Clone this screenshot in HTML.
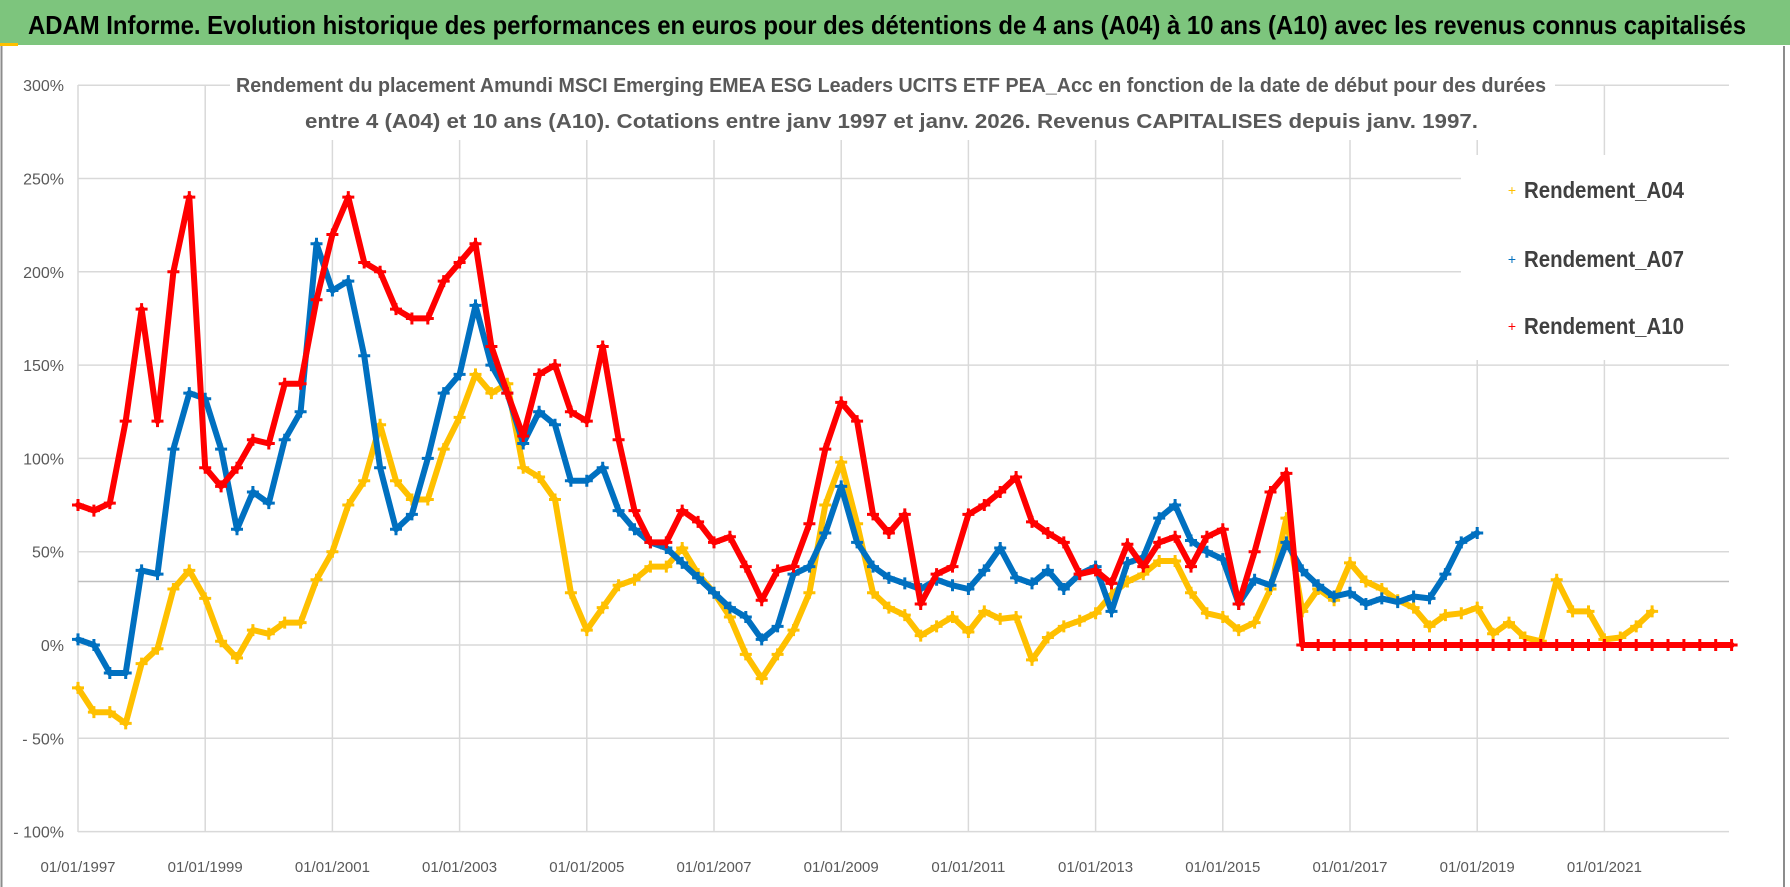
<!DOCTYPE html>
<html><head><meta charset="utf-8"><style>
html,body{margin:0;padding:0;background:#fff;}
svg{display:block;font-family:"Liberation Sans",sans-serif;}
</style></head><body>
<svg id="chart" width="1790" height="887" viewBox="0 0 1790 887">
<rect x="0" y="0" width="1790" height="887" fill="#fff"/>
<rect x="0" y="0" width="1790" height="45" fill="#7DC57D"/>
<rect x="0" y="43" width="18" height="3" fill="#FFC000"/>
<text x="28" y="34" font-size="26" font-weight="bold" fill="#000" textLength="1718" lengthAdjust="spacingAndGlyphs">ADAM Informe. Evolution historique des performances en euros pour des détentions de 4 ans (A04) à 10 ans (A10) avec les revenus connus capitalisés</text>
<line x1="1.5" y1="46" x2="1.5" y2="887" stroke="#8c8c8c" stroke-width="2"/>
<line x1="1784" y1="46" x2="1784" y2="887" stroke="#8c8c8c" stroke-width="2"/>
<g id="grid"></g>
<g id="series"></g>
<rect x="230" y="60" width="1325" height="80" fill="#fff"/>
<text x="236" y="92" font-size="20" font-weight="bold" fill="#595959" textLength="1310" lengthAdjust="spacingAndGlyphs">Rendement du placement Amundi MSCI Emerging EMEA ESG Leaders UCITS ETF PEA_Acc en fonction de la date de début pour des durées</text>
<text x="305" y="128" font-size="20" font-weight="bold" fill="#595959" textLength="1173" lengthAdjust="spacingAndGlyphs">entre 4 (A04) et 10 ans (A10). Cotations entre janv 1997 et janv. 2026. Revenus CAPITALISES depuis janv. 1997.</text>
<rect x="1461" y="155" width="268" height="205" fill="#fff"/>
<g>
<text x="1512" y="195" font-size="14" fill="#FFC000" text-anchor="middle">+</text>
<text x="1524" y="198" font-size="23" font-weight="bold" fill="#404040" textLength="160" lengthAdjust="spacingAndGlyphs">Rendement_A04</text></g>
<g>
<text x="1512" y="264" font-size="14" fill="#0070C0" text-anchor="middle">+</text>
<text x="1524" y="267" font-size="23" font-weight="bold" fill="#404040" textLength="160" lengthAdjust="spacingAndGlyphs">Rendement_A07</text></g>
<g>
<text x="1512" y="331" font-size="14" fill="#FF0000" text-anchor="middle">+</text>
<text x="1524" y="334" font-size="23" font-weight="bold" fill="#404040" textLength="160" lengthAdjust="spacingAndGlyphs">Rendement_A10</text></g>
<g id="axes"></g>
</svg>
<script>
var yTickValues=[300,250,200,150,100,50,0,-50,-100];
var yTickLabels=["300%","250%","200%","150%","100%","50%","0%","- 50%","- 100%"];
var xTickYears=[1997,1999,2001,2003,2005,2007,2009,2011,2013,2015,2017,2019,2021];
var xTickLabels=["01/01/1997","01/01/1999","01/01/2001","01/01/2003","01/01/2005","01/01/2007","01/01/2009","01/01/2011","01/01/2013","01/01/2015","01/01/2017","01/01/2019","01/01/2021"];
var refLineValue=34;
var a04Start=1997.0;
var a04Values=[-23,-36,-36,-42,-10,-2,30,40,25,2,-7,8,6,12,12,35,50,75,88,118,88,78,78,105,122,145,135,140,95,
90,78,28,8,20,32,35,42,42,52,38,28,15,-5,
-18,-5,8,28,75,98,65,28,20,16,5,10,15,7,18,14,15,-8,4,10,
13,17,27,34,38,45,45,28,17,15,8,12,30,68,18,30,24,44,34,30,24,20,10,16,17,20,6,12,4,2,35,18,18,3,4,10,18];
var a07Start=1997.0;
var a07Values=[3,0,-15,-15,40,38,105,135,132,105,62,82,76,110,125,215,190,195,155,95,62,70,100,135,145,182,150,135,108,
125,118,88,88,95,72,62,55,52,44,36,28,20,15,3,10,38,42,60,85,55,42,36,33,30,35,32,30,40,52,36,33,40,30,
38,42,18,44,47,68,75,56,50,46,22,35,32,55,40,32,26,28,22,25,23,26,25,38,55,60];
var a10Start=1997.0;
var a10Values=[75,72,76,120,180,120,200,240,95,85,95,110,108,140,140,185,220,240,205,200,180,175,175,195,205,215,160,135,112,
145,150,125,120,160,110,72,55,55,72,66,55,58,42,24,40,42,65,105,130,120,70,60,70,22,38,42,70,75,82,90,66,60,55,
38,40,33,54,42,55,58,42,58,62,22,50,82,92,
0,0,0,0,0,0,0,0,0,0,0,0,0,0,0,0,0,0,0,0,0,0,0,0,0,0,0,0];
var stepYears=0.25;

var NS="http://www.w3.org/2000/svg";
var X0=78, PX_PER_YEAR=63.6, Y0=645, PX_PER_PCT=1.866, XR=1729, YT=85, YB=832;
function xScale(yr){return X0+(yr-1997)*PX_PER_YEAR;}
function yScale(v){return Y0-v*PX_PER_PCT;}
function mk(tag,attrs,parent){var e=document.createElementNS(NS,tag);for(var k in attrs)e.setAttribute(k,attrs[k]);parent.appendChild(e);return e;}
var grid=document.getElementById('grid'), axes=document.getElementById('axes'), series=document.getElementById('series');
yTickValues.forEach(function(v,i){
  var l=mk('line',{x1:X0,x2:XR,y1:yScale(v),y2:yScale(v),stroke:'#d9d9d9','stroke-width':1.5},grid);
  
  
  var t=mk('text',{x:64,y:yScale(v)+6,'font-size':16,fill:'#595959','text-anchor':'end'},axes);
  t.textContent=yTickLabels[i];
  
  
});
for(var k=0;k<=13;k++){
  var yr=1997+2*k; if(xScale(yr)>XR+1)break;
  var g=mk('line',{x1:xScale(yr),x2:xScale(yr),y1:YT,y2:YB,stroke:'#d9d9d9','stroke-width':1.5},grid);
  
  
}
xTickYears.forEach(function(yr,i){
  var t=mk('text',{x:xScale(yr),y:872,'font-size':15,fill:'#595959','text-anchor':'middle'},axes);
  t.textContent=xTickLabels[i];
  
  
});
var rl=mk('line',{x1:X0,x2:XR,y1:yScale(refLineValue),y2:yScale(refLineValue),stroke:'#bfbfbf','stroke-width':1.5},grid);



function drawSeries(vals,start,color,name){
  var g=mk('g',{},series);
  
  
  var pts=vals.map(function(v,i){return xScale(start+i*stepYears).toFixed(1)+','+yScale(v).toFixed(1);});
  var pl=mk('polyline',{points:pts.join(' '),fill:'none',stroke:color,'stroke-width':6,'stroke-linejoin':'round','stroke-linecap':'round'},g);
  
  
  vals.forEach(function(v,i){
    var x=xScale(start+i*stepYears), y=yScale(v);
    var p=mk('path',{d:'M'+(x-6)+' '+y+'h12M'+x+' '+(y-6)+'v12',stroke:color,'stroke-width':3},g);
    
    
  });
}
drawSeries(a04Values,a04Start,'#FFC000','series-a04');
drawSeries(a07Values,a07Start,'#0070C0','series-a07');
drawSeries(a10Values,a10Start,'#FF0000','series-a10');
</script>
</body></html>
